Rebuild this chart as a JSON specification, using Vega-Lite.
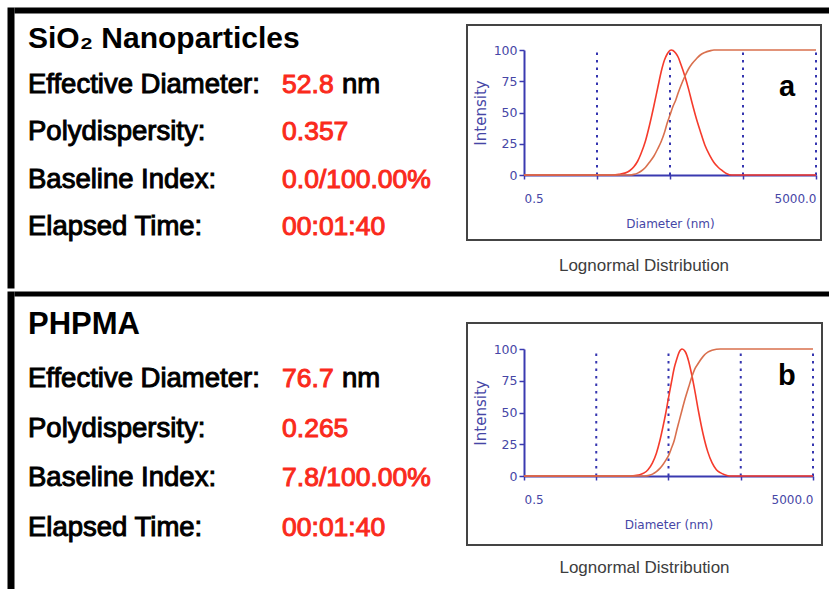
{
  "$schema": "https://vega.github.io/schema/vega-lite/v6.json",
  "padding": {"left": 10, "top": 10, "right": 0, "bottom": 0},
  "autosize": {"type": "pad"},
  "background": "white",
  "spacing": -13,
  "config": {"view": {"stroke": null}, "concat": {"spacing": 0}},
  "vconcat": [
    {
      "bounds": "flush",
      "spacing": 0,
      "hconcat": [
        {
          "width": 453,
          "height": 263,
          "data": {"values": [
            {"kind": "title", "col": "label", "line": "title", "text": "SiO₂ Nanoparticles"},
            {"kind": "label", "col": "label", "line": "eff", "text": "Effective Diameter:"},
            {"kind": "label", "col": "label", "line": "poly", "text": "Polydispersity:"},
            {"kind": "label", "col": "label", "line": "base", "text": "Baseline Index:"},
            {"kind": "label", "col": "label", "line": "time", "text": "Elapsed Time:"},
            {"kind": "value", "col": "value", "line": "eff", "text": "52.8"},
            {"kind": "value", "col": "value", "line": "poly", "text": "0.357"},
            {"kind": "value", "col": "value", "line": "base", "text": "0.0/100.00%"},
            {"kind": "value", "col": "value", "line": "time", "text": "00:01:40"},
            {"kind": "unit", "col": "value", "line": "eff", "text": "nm"}
          ]},
          "encoding": {
            "x": {"field": "col", "type": "nominal", "bandPosition": 0,
              "scale": {"type": "band", "domain": ["label", "value"], "range": [0, 815], "paddingInner": 0, "paddingOuter": 0.604, "align": 0.0456},
              "axis": {"orient": "top", "offset": 15, "domainColor": "#000000", "domainWidth": 6, "labels": false, "ticks": false, "title": null, "grid": false}},
            "y": {"field": "line", "type": "nominal",
              "scale": {"type": "point", "domain": ["title", "eff", "poly", "base", "time"], "range": [-18, 263], "padding": 0.97, "align": 0.4216},
              "axis": {"orient": "left", "offset": 3.5, "domainColor": "#000000", "domainWidth": 7, "labels": false, "ticks": false, "title": null, "grid": false}},
            "text": {"field": "text"}
          },
          "layer": [
            {"transform": [{"filter": "datum.kind == 'title'"}],
             "mark": {"type": "text", "align": "left", "baseline": "alphabetic", "dy": 2, "font": "Liberation Sans", "fontWeight": "bold", "fontSize": 30, "color": "#000000"}},
            {"transform": [{"filter": "datum.kind == 'label'"}],
             "mark": {"type": "text", "align": "left", "baseline": "alphabetic", "font": "Liberation Sans", "fontWeight": "normal", "fontSize": 27.5, "fill": "#000000", "stroke": "#000000", "strokeWidth": 1}},
            {"transform": [{"filter": "datum.kind == 'value'"}],
             "mark": {"type": "text", "align": "left", "baseline": "alphabetic", "font": "Liberation Sans", "fontWeight": "normal", "fontSize": 26.5, "fill": "#fa2a1c", "stroke": "#fa2a1c", "strokeWidth": 1}},
            {"transform": [{"filter": "datum.kind == 'unit'"}],
             "mark": {"type": "text", "align": "left", "baseline": "alphabetic", "font": "Liberation Sans", "fontWeight": "normal", "fontSize": 27.5, "fill": "#000000", "stroke": "#000000", "strokeWidth": 1},
             "encoding": {"x": {"field": "col", "type": "nominal", "bandPosition": 0.236,
               "scale": {"type": "band", "domain": ["label", "value"], "range": [0, 815], "paddingInner": 0, "paddingOuter": 0.604, "align": 0.0456},
               "axis": {"orient": "top", "offset": 15, "domainColor": "#000000", "domainWidth": 6, "labels": false, "ticks": false, "title": null, "grid": false}}}}
          ]
        },
        {
          "width": 354,
          "height": 215,
          "view": {"stroke": "#444444", "strokeWidth": 2},
          "title": {"text": "Lognormal Distribution", "orient": "bottom", "offset": 18, "anchor": "middle", "font": "Liberation Sans", "fontSize": 17, "fontWeight": "normal", "color": "#3d3d3d"},
          "encoding": {
            "x": {"field": "d", "type": "quantitative",
              "scale": {"type": "log", "domain": [0.5, 5000], "range": [57, 349], "nice": false},
              "axis": {"orient": "bottom", "offset": -65, "values": [0.5, 5, 50, 500, 5000], "format": ".1f",
                "labelExpr": "datum.value == 0.5 || datum.value == 5000 ? datum.label : ''", "labelFlush": true, "labelOverlap": false,
                "labelFont": "DejaVu Sans", "labelFontSize": 12, "labelColor": "#4646a6", "labelPadding": 14,
                "domainColor": "#3a3ab0", "domainWidth": 2, "tickColor": "#3a3ab0", "tickSize": 4, "tickWidth": 1.5, "grid": false,
                "title": "Diameter (nm)", "titleFont": "DejaVu Sans", "titleFontSize": 12, "titleFontWeight": "normal", "titleColor": "#4646a6", "titlePadding": 14}},
            "y": {"field": "v", "type": "quantitative",
              "scale": {"domain": [0, 100], "range": [150, 25], "nice": false, "zero": false},
              "axis": {"orient": "left", "offset": -57, "values": [0, 25, 50, 75, 100],
                "labelFont": "DejaVu Sans", "labelFontSize": 12.5, "labelColor": "#4646a6", "labelPadding": 2,
                "domainColor": "#3a3ab0", "domainWidth": 2, "tickColor": "#3a3ab0", "tickSize": 5, "tickWidth": 1.5, "grid": false,
                "title": "Intensity", "titleFont": "DejaVu Sans", "titleFontSize": 15, "titleFontWeight": "normal", "titleColor": "#4646a6", "titlePadding": 5}}
          },
          "layer": [
            {
              "data": {"values": [{"d": 5, "v": 0, "v2": 100}, {"d": 50, "v": 0, "v2": 100}, {"d": 500, "v": 0, "v2": 100}, {"d": 5000, "v": 0, "v2": 100}]},
              "mark": {"type": "rule", "color": "#3535b0", "strokeWidth": 2, "strokeDash": [2.5, 5]},
              "encoding": {"y2": {"field": "v2"}}
            },
            {
              "data": {"values": [
                {"series": "Distribution", "d": 0.5, "v": 0}, {"series": "Distribution", "d": 8, "v": 0}, {"series": "Distribution", "d": 10, "v": 0.5},
                {"series": "Distribution", "d": 12, "v": 1.5}, {"series": "Distribution", "d": 14, "v": 3.4}, {"series": "Distribution", "d": 16, "v": 6.6},
                {"series": "Distribution", "d": 18, "v": 11}, {"series": "Distribution", "d": 20, "v": 17}, {"series": "Distribution", "d": 23, "v": 27},
                {"series": "Distribution", "d": 26, "v": 39}, {"series": "Distribution", "d": 30, "v": 55}, {"series": "Distribution", "d": 34, "v": 70},
                {"series": "Distribution", "d": 38, "v": 83}, {"series": "Distribution", "d": 42, "v": 92}, {"series": "Distribution", "d": 46, "v": 97},
                {"series": "Distribution", "d": 50, "v": 99.7}, {"series": "Distribution", "d": 52, "v": 100}, {"series": "Distribution", "d": 55, "v": 99.6},
                {"series": "Distribution", "d": 60, "v": 97.4}, {"series": "Distribution", "d": 65, "v": 94}, {"series": "Distribution", "d": 70, "v": 89},
                {"series": "Distribution", "d": 80, "v": 79}, {"series": "Distribution", "d": 90, "v": 68.5}, {"series": "Distribution", "d": 100, "v": 58},
                {"series": "Distribution", "d": 115, "v": 45}, {"series": "Distribution", "d": 130, "v": 35}, {"series": "Distribution", "d": 150, "v": 24},
                {"series": "Distribution", "d": 175, "v": 15.7}, {"series": "Distribution", "d": 200, "v": 10}, {"series": "Distribution", "d": 230, "v": 6},
                {"series": "Distribution", "d": 260, "v": 3.5}, {"series": "Distribution", "d": 300, "v": 1}, {"series": "Distribution", "d": 350, "v": 0},
                {"series": "Distribution", "d": 5000, "v": 0},
                {"series": "Cumulative", "d": 0.5, "v": 0}, {"series": "Cumulative", "d": 14, "v": 0}, {"series": "Cumulative", "d": 16, "v": 0.5},
                {"series": "Cumulative", "d": 18, "v": 1.5}, {"series": "Cumulative", "d": 20, "v": 3}, {"series": "Cumulative", "d": 23, "v": 6},
                {"series": "Cumulative", "d": 26, "v": 10}, {"series": "Cumulative", "d": 30, "v": 15}, {"series": "Cumulative", "d": 34, "v": 21},
                {"series": "Cumulative", "d": 38, "v": 27}, {"series": "Cumulative", "d": 42, "v": 34}, {"series": "Cumulative", "d": 46, "v": 42},
                {"series": "Cumulative", "d": 50, "v": 48}, {"series": "Cumulative", "d": 55, "v": 55}, {"series": "Cumulative", "d": 60, "v": 60},
                {"series": "Cumulative", "d": 65, "v": 66}, {"series": "Cumulative", "d": 70, "v": 71}, {"series": "Cumulative", "d": 80, "v": 79},
                {"series": "Cumulative", "d": 90, "v": 85}, {"series": "Cumulative", "d": 100, "v": 89}, {"series": "Cumulative", "d": 115, "v": 93},
                {"series": "Cumulative", "d": 130, "v": 96}, {"series": "Cumulative", "d": 150, "v": 98}, {"series": "Cumulative", "d": 175, "v": 99.3},
                {"series": "Cumulative", "d": 200, "v": 100}, {"series": "Cumulative", "d": 5000, "v": 100}
              ]},
              "mark": {"type": "line", "strokeWidth": 1.6, "interpolate": "monotone"},
              "encoding": {
                "color": {"field": "series", "type": "nominal", "scale": {"domain": ["Cumulative", "Distribution"], "range": ["#d9704e", "#f53b2c"]}, "legend": null}
              }
            },
            {
              "data": {"values": [{"label": "a", "d": 2000, "v": 63}]},
              "mark": {"type": "text", "align": "center", "baseline": "alphabetic", "font": "Liberation Sans", "fontWeight": "bold", "fontSize": 29, "color": "#000000"},
              "encoding": {"text": {"field": "label"}}
            }
          ]
        }
      ]
    },
    {
      "bounds": "flush",
      "spacing": 0,
      "hconcat": [
        {
          "width": 453,
          "height": 266,
          "data": {"values": [
            {"kind": "title", "col": "label", "line": "title", "text": "PHPMA"},
            {"kind": "label", "col": "label", "line": "eff", "text": "Effective Diameter:"},
            {"kind": "label", "col": "label", "line": "poly", "text": "Polydispersity:"},
            {"kind": "label", "col": "label", "line": "base", "text": "Baseline Index:"},
            {"kind": "label", "col": "label", "line": "time", "text": "Elapsed Time:"},
            {"kind": "value", "col": "value", "line": "eff", "text": "76.7"},
            {"kind": "value", "col": "value", "line": "poly", "text": "0.265"},
            {"kind": "value", "col": "value", "line": "base", "text": "7.8/100.00%"},
            {"kind": "value", "col": "value", "line": "time", "text": "00:01:40"},
            {"kind": "unit", "col": "value", "line": "eff", "text": "nm"}
          ]},
          "encoding": {
            "x": {"field": "col", "type": "nominal", "bandPosition": 0,
              "scale": {"type": "band", "domain": ["label", "value"], "range": [0, 815], "paddingInner": 0, "paddingOuter": 0.604, "align": 0.0456},
              "axis": {"orient": "top", "offset": 29.5, "domainColor": "#000000", "domainWidth": 5, "labels": false, "ticks": false, "title": null, "grid": false}},
            "y": {"field": "line", "type": "nominal",
              "scale": {"type": "point", "domain": ["title", "eff", "poly", "base", "time"], "range": [-32, 266], "padding": 1.085, "align": 0.4676},
              "axis": {"orient": "left", "offset": 3.5, "domainColor": "#000000", "domainWidth": 7, "labels": false, "ticks": false, "title": null, "grid": false}},
            "text": {"field": "text"}
          },
          "layer": [
            {"transform": [{"filter": "datum.kind == 'title'"}],
             "mark": {"type": "text", "align": "left", "baseline": "alphabetic", "dy": -3, "font": "Liberation Sans", "fontWeight": "bold", "fontSize": 31, "color": "#000000"}},
            {"transform": [{"filter": "datum.kind == 'label'"}],
             "mark": {"type": "text", "align": "left", "baseline": "alphabetic", "font": "Liberation Sans", "fontWeight": "normal", "fontSize": 27.5, "fill": "#000000", "stroke": "#000000", "strokeWidth": 1}},
            {"transform": [{"filter": "datum.kind == 'value'"}],
             "mark": {"type": "text", "align": "left", "baseline": "alphabetic", "font": "Liberation Sans", "fontWeight": "normal", "fontSize": 26.5, "fill": "#fa2a1c", "stroke": "#fa2a1c", "strokeWidth": 1}},
            {"transform": [{"filter": "datum.kind == 'unit'"}],
             "mark": {"type": "text", "align": "left", "baseline": "alphabetic", "font": "Liberation Sans", "fontWeight": "normal", "fontSize": 27.5, "fill": "#000000", "stroke": "#000000", "strokeWidth": 1},
             "encoding": {"x": {"field": "col", "type": "nominal", "bandPosition": 0.236,
               "scale": {"type": "band", "domain": ["label", "value"], "range": [0, 815], "paddingInner": 0, "paddingOuter": 0.604, "align": 0.0456},
               "axis": {"orient": "top", "offset": 29.5, "domainColor": "#000000", "domainWidth": 5, "labels": false, "ticks": false, "title": null, "grid": false}}}}
          ]
        },
        {
          "width": 355,
          "height": 222,
          "view": {"stroke": "#444444", "strokeWidth": 2},
          "title": {"text": "Lognormal Distribution", "orient": "bottom", "offset": 15, "anchor": "middle", "font": "Liberation Sans", "fontSize": 17, "fontWeight": "normal", "color": "#3d3d3d"},
          "encoding": {
            "x": {"field": "d", "type": "quantitative",
              "scale": {"type": "log", "domain": [0.5, 5000], "range": [57, 346], "nice": false},
              "axis": {"orient": "bottom", "offset": -69, "values": [0.5, 5, 50, 500, 5000], "format": ".1f",
                "labelExpr": "datum.value == 0.5 || datum.value == 5000 ? datum.label : ''", "labelFlush": true, "labelOverlap": false,
                "labelFont": "DejaVu Sans", "labelFontSize": 12, "labelColor": "#4646a6", "labelPadding": 14,
                "domainColor": "#3a3ab0", "domainWidth": 2, "tickColor": "#3a3ab0", "tickSize": 4, "tickWidth": 1.5, "grid": false,
                "title": "Diameter (nm)", "titleFont": "DejaVu Sans", "titleFontSize": 12, "titleFontWeight": "normal", "titleColor": "#4646a6", "titlePadding": 14}},
            "y": {"field": "v", "type": "quantitative",
              "scale": {"domain": [0, 100], "range": [153, 26], "nice": false, "zero": false},
              "axis": {"orient": "left", "offset": -57, "values": [0, 25, 50, 75, 100],
                "labelFont": "DejaVu Sans", "labelFontSize": 12.5, "labelColor": "#4646a6", "labelPadding": 2,
                "domainColor": "#3a3ab0", "domainWidth": 2, "tickColor": "#3a3ab0", "tickSize": 5, "tickWidth": 1.5, "grid": false,
                "title": "Intensity", "titleFont": "DejaVu Sans", "titleFontSize": 15, "titleFontWeight": "normal", "titleColor": "#4646a6", "titlePadding": 5}}
          },
          "layer": [
            {
              "data": {"values": [{"d": 5, "v": 0, "v2": 100}, {"d": 50, "v": 0, "v2": 100}, {"d": 500, "v": 0, "v2": 100}, {"d": 5000, "v": 0, "v2": 100}]},
              "mark": {"type": "rule", "color": "#3535b0", "strokeWidth": 2, "strokeDash": [2.5, 5]},
              "encoding": {"y2": {"field": "v2"}}
            },
            {
              "data": {"values": [
                {"series": "Distribution", "d": 0.5, "v": 0}, {"series": "Distribution", "d": 14, "v": 0}, {"series": "Distribution", "d": 16, "v": 0.2},
                {"series": "Distribution", "d": 18, "v": 0.5}, {"series": "Distribution", "d": 20, "v": 1}, {"series": "Distribution", "d": 23, "v": 2.4},
                {"series": "Distribution", "d": 26, "v": 5}, {"series": "Distribution", "d": 30, "v": 10.4}, {"series": "Distribution", "d": 34, "v": 18},
                {"series": "Distribution", "d": 38, "v": 28}, {"series": "Distribution", "d": 42, "v": 39}, {"series": "Distribution", "d": 46, "v": 50},
                {"series": "Distribution", "d": 50, "v": 61.5}, {"series": "Distribution", "d": 55, "v": 74}, {"series": "Distribution", "d": 60, "v": 85},
                {"series": "Distribution", "d": 65, "v": 92}, {"series": "Distribution", "d": 70, "v": 97.4}, {"series": "Distribution", "d": 77, "v": 100},
                {"series": "Distribution", "d": 85, "v": 98}, {"series": "Distribution", "d": 95, "v": 90.4}, {"series": "Distribution", "d": 105, "v": 79.5},
                {"series": "Distribution", "d": 115, "v": 68}, {"series": "Distribution", "d": 130, "v": 51}, {"series": "Distribution", "d": 150, "v": 33.5},
                {"series": "Distribution", "d": 175, "v": 19}, {"series": "Distribution", "d": 200, "v": 10.5}, {"series": "Distribution", "d": 230, "v": 5},
                {"series": "Distribution", "d": 260, "v": 2.6}, {"series": "Distribution", "d": 300, "v": 1}, {"series": "Distribution", "d": 350, "v": 0},
                {"series": "Distribution", "d": 5000, "v": 0},
                {"series": "Cumulative", "d": 0.5, "v": 0}, {"series": "Cumulative", "d": 23, "v": 0}, {"series": "Cumulative", "d": 26, "v": 0.3},
                {"series": "Cumulative", "d": 30, "v": 1.5}, {"series": "Cumulative", "d": 34, "v": 3.5}, {"series": "Cumulative", "d": 38, "v": 6},
                {"series": "Cumulative", "d": 42, "v": 9}, {"series": "Cumulative", "d": 46, "v": 12.5}, {"series": "Cumulative", "d": 50, "v": 16},
                {"series": "Cumulative", "d": 55, "v": 22}, {"series": "Cumulative", "d": 60, "v": 28}, {"series": "Cumulative", "d": 65, "v": 36},
                {"series": "Cumulative", "d": 70, "v": 43}, {"series": "Cumulative", "d": 77, "v": 52}, {"series": "Cumulative", "d": 85, "v": 61},
                {"series": "Cumulative", "d": 95, "v": 70}, {"series": "Cumulative", "d": 105, "v": 78}, {"series": "Cumulative", "d": 115, "v": 84},
                {"series": "Cumulative", "d": 130, "v": 89}, {"series": "Cumulative", "d": 150, "v": 94}, {"series": "Cumulative", "d": 175, "v": 97.5},
                {"series": "Cumulative", "d": 200, "v": 99}, {"series": "Cumulative", "d": 230, "v": 99.8}, {"series": "Cumulative", "d": 260, "v": 100},
                {"series": "Cumulative", "d": 5000, "v": 100}
              ]},
              "mark": {"type": "line", "strokeWidth": 1.6, "interpolate": "monotone"},
              "encoding": {
                "color": {"field": "series", "type": "nominal", "scale": {"domain": ["Cumulative", "Distribution"], "range": ["#d9704e", "#f53b2c"]}, "legend": null}
              }
            },
            {
              "data": {"values": [{"label": "b", "d": 2180, "v": 71.7}]},
              "mark": {"type": "text", "align": "center", "baseline": "alphabetic", "font": "Liberation Sans", "fontWeight": "bold", "fontSize": 29, "color": "#000000"},
              "encoding": {"text": {"field": "label"}}
            }
          ]
        }
      ]
    }
  ]
}
